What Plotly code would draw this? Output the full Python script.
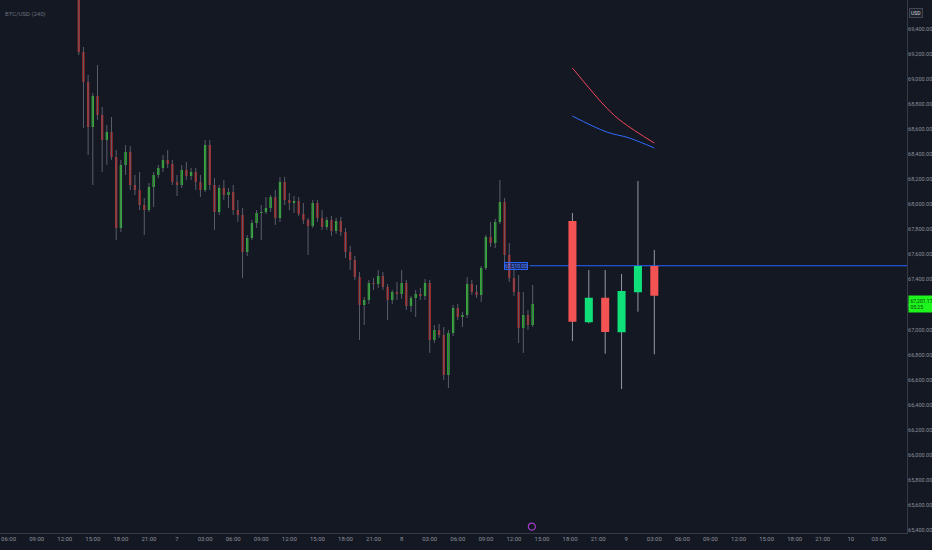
import plotly.graph_objects as go
import pandas as pd

# 30 min candles, starting 6 Apr 13:30
start = "2024-04-06 13:30"
opens = [69872, 69217, 68977, 68618, 68866, 68714, 68514, 68578, 68378, 67812,
         68315, 68418, 68155, 68115, 67995, 67955, 68139, 68235, 68291, 68355,
         68323, 68179, 68155, 68275, 68227, 68259, 68179, 68115, 68474, 68155,
         67939, 68131, 68075, 68099, 67955, 67915, 67620, 67732, 67852, 67931,
         67939, 67971, 68059, 67892, 68179, 68035, 68011, 68027, 67923, 67876,
         67828, 68011, 67892, 67820, 67876, 67788, 67868, 67780, 67620, 67556,
         67420, 67197, 67237, 67372, 67364, 67428, 67341, 67237, 67301, 67285,
         67372, 67189, 67253, 67285, 67269, 67372, 66917, 66997, 66957, 66638,
         66973, 67173, 67101, 67117, 67364, 67301, 67277, 67492, 67740, 67692,
         67860, 68019, 67596, 67412, 67301, 67013, 67117, 67037]
highs = [69951, 69257, 69033, 68890, 69113, 68778, 68634, 68698, 68434, 68355,
         68474, 68466, 68235, 68259, 68051, 68171, 68259, 68315, 68394, 68434,
         68355, 68235, 68315, 68339, 68291, 68291, 68235, 68514, 68514, 68211,
         68155, 68195, 68131, 68155, 68035, 67971, 67756, 67876, 67955, 67995,
         68059, 68075, 68115, 68219, 68219, 68091, 68067, 68059, 68011, 67892,
         68035, 68035, 67955, 67900, 67907, 67892, 67900, 67812, 67668, 67588,
         67460, 67261, 67396, 67412, 67476, 67460, 67364, 67317, 67380, 67476,
         67396, 67269, 67317, 67333, 67404, 67396, 67037, 67045, 67021, 66997,
         67197, 67205, 67141, 67420, 67396, 67357, 67508, 67756, 67860, 67884,
         68195, 68051, 67692, 67492, 67436, 67301, 67157, 67357]
lows = [69193, 68610, 68394, 68155, 68674, 68259, 68315, 68355, 67716, 67780,
        68235, 68115, 68075, 67955, 67756, 67939, 67979, 68211, 68259, 68291,
        68155, 68067, 68131, 68195, 68195, 68115, 68059, 68099, 68115, 67796,
        67915, 68035, 67971, 67915, 67860, 67412, 67588, 67716, 67812, 67716,
        67923, 67939, 67836, 67860, 67995, 67955, 67931, 67907, 67844, 67596,
        67812, 67860, 67796, 67796, 67748, 67764, 67748, 67572, 67476, 67396,
        66917, 67037, 67205, 67317, 67333, 67317, 67077, 67205, 67237, 67245,
        67157, 67141, 67101, 67237, 67237, 66814, 66893, 66933, 66598, 66534,
        66949, 67077, 67021, 67093, 67277, 67253, 67221, 67476, 67660, 67652,
        67844, 67540, 67380, 67269, 66893, 66814, 66997, 67021]
closes = [69217, 68977, 68618, 68866, 68714, 68514, 68578, 68378, 67812, 68315,
          68418, 68155, 68115, 67995, 67955, 68139, 68235, 68291, 68355, 68323,
          68179, 68155, 68275, 68227, 68259, 68179, 68115, 68474, 68155, 67939,
          68131, 68075, 68099, 67955, 67915, 67620, 67732, 67852, 67931, 67939,
          67971, 68059, 67892, 68179, 68035, 68011, 68027, 67923, 67876, 67828,
          68011, 67892, 67820, 67876, 67788, 67868, 67780, 67620, 67556, 67420,
          67197, 67237, 67372, 67364, 67428, 67341, 67237, 67301, 67285, 67372,
          67189, 67253, 67285, 67269, 67372, 66917, 66997, 66957, 66638, 66973,
          67173, 67101, 67117, 67364, 67301, 67277, 67492, 67740, 67692, 67860,
          68019, 67596, 67412, 67301, 67013, 67117, 67037, 67205]

# projected candles
proj_times = ["2024-04-08 18:15", "2024-04-08 20:00", "2024-04-08 21:45",
              "2024-04-08 23:30", "2024-04-09 01:15", "2024-04-09 03:00"]
proj_open = [67867, 67058, 67255, 66978, 67298, 67508]
proj_high = [67931, 67476, 67476, 67444, 68186, 67636]
proj_low = [66909, 67050, 66808, 66526, 67143, 66803]
proj_close = [67063, 67255, 66981, 67308, 67508, 67271]

# the two short lines top right
red_times = ["2024-04-08 18:15", "2024-04-08 21:55", "2024-04-08 23:35", "2024-04-09 03:00"]
red_vals = [69089, 68769, 68658, 68490]
blue_times = ["2024-04-08 18:15", "2024-04-08 21:55", "2024-04-09 00:20", "2024-04-09 03:00"]
blue_vals = [68705, 68578, 68530, 68450]

level = 67510
level_start = "2024-04-08 13:40"
last_price = 67201.17
countdown = "05:25"

x_range = ["2024-04-06 05:05", "2024-04-10 06:00"]
y_range = [65376, 69632]
y_ticks = list(range(65400, 69401, 200))
tick_labels = ["06:00", "09:00", "12:00", "15:00", "18:00", "21:00", "7",
               "03:00", "06:00", "09:00", "12:00", "15:00", "18:00", "21:00", "8",
               "03:00", "06:00", "09:00", "12:00", "15:00", "18:00", "21:00", "9",
               "03:00", "06:00", "09:00", "12:00", "15:00", "18:00", "21:00", "10",
               "03:00"]

BG = "#141823"
TXT = "#8c909b"
FONT = "Liberation Sans Narrow, Roboto, sans-serif"

times = pd.date_range(start, periods=len(closes), freq="30min")
tick_pos = pd.date_range("2024-04-06 06:00", periods=len(tick_labels), freq="3h")

def wicks(xs, lo, hi):
    wx, wy = [], []
    for t, l, h in zip(xs, lo, hi):
        wx += [t, t, None]
        wy += [l, h, None]
    return wx, wy

fig = go.Figure()

wx, wy = wicks(times, lows, highs)
fig.add_trace(go.Scatter(x=wx, y=wy, mode="lines", line=dict(color="#5a5e6b", width=1),
                         hoverinfo="skip"))
fig.add_trace(go.Candlestick(x=times, open=opens, high=highs, low=lows, close=closes,
                             increasing=dict(fillcolor="#22d422", line=dict(color="#22d422", width=0)),
                             decreasing=dict(fillcolor="#c2221e", line=dict(color="#c2221e", width=0)),
                             hoverinfo="skip"))

pwx, pwy = wicks(pd.to_datetime(proj_times), proj_low, proj_high)
fig.add_trace(go.Scatter(x=pwx, y=pwy, mode="lines", line=dict(color="#9598a1", width=1),
                         hoverinfo="skip"))
fig.add_trace(go.Candlestick(x=proj_times, open=proj_open, high=proj_high, low=proj_low,
                             close=proj_close, xaxis="x2",
                             increasing=dict(fillcolor="#0fe07a", line=dict(color="#0fe07a", width=0)),
                             decreasing=dict(fillcolor="#f35353", line=dict(color="#f35353", width=0)),
                             hoverinfo="skip"))

fig.add_trace(go.Scatter(x=[level_start, x_range[1]], y=[level, level], mode="lines",
                         line=dict(color="#2962ff", width=1), hoverinfo="skip"))
fig.add_trace(go.Scatter(x=red_times, y=red_vals, mode="lines", line_shape="spline",
                         line=dict(color="#f0475a", width=1), hoverinfo="skip"))
fig.add_trace(go.Scatter(x=blue_times, y=blue_vals, mode="lines", line_shape="spline",
                         line=dict(color="#2f6bff", width=1), hoverinfo="skip"))

fig.add_annotation(x="2024-04-08 12:10", y=level, xref="x", yref="y", text=f"{level:,.2f}",
                   showarrow=False, font=dict(family=FONT, size=5, color="#5b86ff"),
                   bgcolor="rgba(41,98,255,0.25)", bordercolor="#2962ff", borderwidth=1,
                   borderpad=0)
fig.add_annotation(x=1.0, y=last_price, xref="paper", yref="y", xanchor="left",
                   text=f"{last_price:,.2f}<br>{countdown}", showarrow=False, align="left",
                   font=dict(family=FONT, size=5, color="#0b3b0b"),
                   bgcolor="#1df51d", borderpad=1.5, xshift=1)
fig.add_annotation(x=1.0, y=0.985, xref="paper", yref="paper", xanchor="left",
                   text="USD", showarrow=False, xshift=2,
                   font=dict(family=FONT, size=5, color="#d1d4dc"),
                   bgcolor="#1e222d", bordercolor="#434651", borderwidth=1, borderpad=1)
fig.add_annotation(x=0.003, y=0.985, xref="paper", yref="paper", xanchor="left",
                   text="BTC/USD (240)", showarrow=False,
                   font=dict(family=FONT, size=6, color="#6a6e7a"))

fig.add_shape(type="circle", xref="x", yref="paper", xsizemode="pixel", ysizemode="pixel",
              xanchor="2024-04-08 13:55", yanchor=0.012, x0=-3.5, x1=3.5, y0=-3.5, y1=3.5,
              line=dict(color="#a03cc8", width=1.2))

fig.update_layout(
    width=932, height=550,
    margin=dict(l=0, r=25, t=0, b=17),
    paper_bgcolor=BG, plot_bgcolor=BG,
    showlegend=False,
    font=dict(family=FONT, size=6, color=TXT),
    xaxis=dict(type="date", range=x_range, rangeslider=dict(visible=False),
               tickvals=tick_pos, ticktext=tick_labels, showgrid=False, zeroline=False,
               showline=True, linecolor="#363a45", linewidth=1, ticks="",
               tickfont=dict(family=FONT, size=6, color=TXT), automargin=False),
    xaxis2=dict(type="date", range=x_range, overlaying="x", visible=False,
                rangeslider=dict(visible=False)),
    yaxis=dict(range=y_range, side="right", tickvals=y_ticks, tickformat=",.2f",
               showgrid=False, zeroline=False, showline=True, linecolor="#363a45",
               linewidth=1, ticks="", ticklabelstandoff=-1,
               tickfont=dict(family=FONT, size=5.5, color=TXT), automargin=False),
)

# page has a default body margin; drop it so the figure fills the window
fig.write_html("out.html", config={"displayModeBar": False},
               post_script="document.body.style.margin='0';"
                           "document.body.style.background='" + BG + "';")
